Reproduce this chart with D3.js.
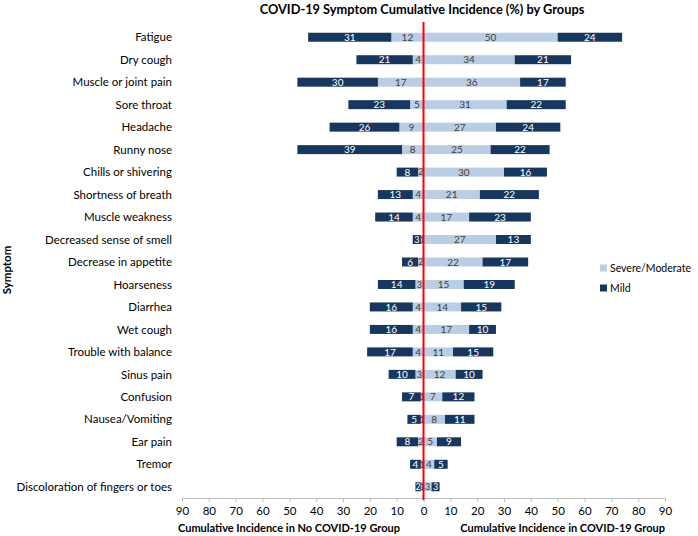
<!DOCTYPE html>
<html><head><meta charset="utf-8">
<script src="https://cdn.jsdelivr.net/npm/d3@7"></script>
<style>body{margin:0;background:#fff;} svg{display:block;font-family:Lato,"Open Sans",sans-serif;}</style>
</head><body>
<script>
const symptoms = ["Fatigue","Dry cough","Muscle or joint pain","Sore throat","Headache","Runny nose","Chills or shivering","Shortness of breath","Muscle weakness","Decreased sense of smell","Decrease in appetite","Hoarseness","Diarrhea","Wet cough","Trouble with balance","Sinus pain","Confusion","Nausea/Vomiting","Ear pain","Tremor","Discoloration of fingers or toes"];
const noCovidSevere = [12,4,17,5,9,8,2,4,4,1,2,3,4,4,4,3,1,1,2,1,1];
const noCovidMild   = [31,21,30,23,26,39,8,13,14,3,6,14,16,16,17,10,7,5,8,4,2];
const covidSevere   = [50,34,36,31,27,25,30,21,17,27,22,15,14,17,11,12,7,8,5,4,3];
const covidMild     = [24,21,17,22,24,22,16,22,23,13,17,19,15,10,15,10,12,11,9,5,3];
const tickValues = [-90,-80,-70,-60,-50,-40,-30,-20,-10,0,10,20,30,40,50,60,70,80,90];
const seriesNames = ["Severe/Moderate","Mild"];
const lightC = "#b9cde5", darkC = "#17375e";

const W = 698, H = 536;
const svg = d3.select("body").append("svg").attr("width", W).attr("height", H);
const x = d3.scaleLinear().domain([-90, 90]).range([182, 665]);
const y = d3.scaleBand().domain(symptoms).range([26, 498]).paddingInner(0.6).paddingOuter(0.3);

// title
svg.append("text").attr("x", 422).attr("y", 14).attr("text-anchor", "middle")
  .attr("font-size", 12.8).attr("font-weight", "bold").attr("fill", "#000")
  .text("COVID-19 Symptom Cumulative Incidence (%) by Groups");

// bars
const rows = symptoms.map((s, i) => ({s, ls: noCovidSevere[i], lm: noCovidMild[i], rs: covidSevere[i], rm: covidMild[i]}));
const segs = [];
rows.forEach(r => {
  segs.push({s: r.s, x0: -r.ls, x1: 0, v: r.ls, c: lightC, t: "#404040"});
  segs.push({s: r.s, x0: -r.ls - r.lm, x1: -r.ls, v: r.lm, c: darkC, t: "#fff"});
  segs.push({s: r.s, x0: 0, x1: r.rs, v: r.rs, c: lightC, t: "#404040"});
  segs.push({s: r.s, x0: r.rs, x1: r.rs + r.rm, v: r.rm, c: darkC, t: "#fff"});
});
svg.append("g").selectAll("rect").data(segs).join("rect")
  .attr("x", d => x(d.x0)).attr("width", d => x(d.x1) - x(d.x0))
  .attr("y", d => y(d.s)).attr("height", y.bandwidth())
  .attr("fill", d => d.c);
svg.append("g").selectAll("text").data(segs).join("text")
  .attr("x", d => (x(d.x0) + x(d.x1)) / 2).attr("y", d => y(d.s) + y.bandwidth() / 2)
  .attr("dy", "0.36em").attr("text-anchor", "middle").attr("font-size", d => d.v < 4 ? 9 : 10)
  .attr("fill", d => d.t).text(d => d.v);

// category labels
svg.append("g").selectAll("text").data(symptoms).join("text")
  .attr("x", 172).attr("y", d => y(d) + y.bandwidth() / 2).attr("dy", "0.36em")
  .attr("text-anchor", "end").attr("font-size", 11.5).attr("fill", "#000").text(d => d);

// x axis
const ax = svg.append("g").attr("transform", "translate(0,498)")
  .call(d3.axisBottom(x).tickValues(tickValues).tickFormat(d => Math.abs(d)).tickSize(4).tickPadding(5));
ax.select(".domain").attr("stroke", "#bfbfbf");
ax.selectAll(".tick line").attr("stroke", "#bfbfbf");
ax.selectAll(".tick text").attr("font-size", 11.5).attr("fill", "#000").attr("font-family", "Lato");

// zero line
svg.append("line").attr("x1", x(0)).attr("x2", x(0)).attr("y1", 22).attr("y2", 500)
  .attr("stroke", "#ff0000").attr("stroke-width", 2);

// axis titles
svg.append("text").attr("x", 178).attr("y", 532).attr("font-size", 11).attr("font-weight", "bold")
  .text("Cumulative Incidence in No COVID-19 Group");
svg.append("text").attr("x", 665).attr("y", 532).attr("text-anchor", "end").attr("font-size", 11).attr("font-weight", "bold")
  .text("Cumulative Incidence in COVID-19 Group");
svg.append("text").attr("transform", "translate(11,270) rotate(-90)").attr("text-anchor", "middle")
  .attr("font-size", 11.5).attr("font-weight", "bold").text("Symptom");

// legend
const lg = svg.append("g").attr("transform", "translate(600,268)");
seriesNames.forEach((n, i) => {
  lg.append("rect").attr("x", 0).attr("y", i * 20 - 3.5).attr("width", 7).attr("height", 7).attr("fill", i === 0 ? lightC : darkC);
  lg.append("text").attr("x", 10).attr("y", i * 20).attr("dy", "0.36em").attr("font-size", 10.5).text(n);
});
</script>
</body></html>
